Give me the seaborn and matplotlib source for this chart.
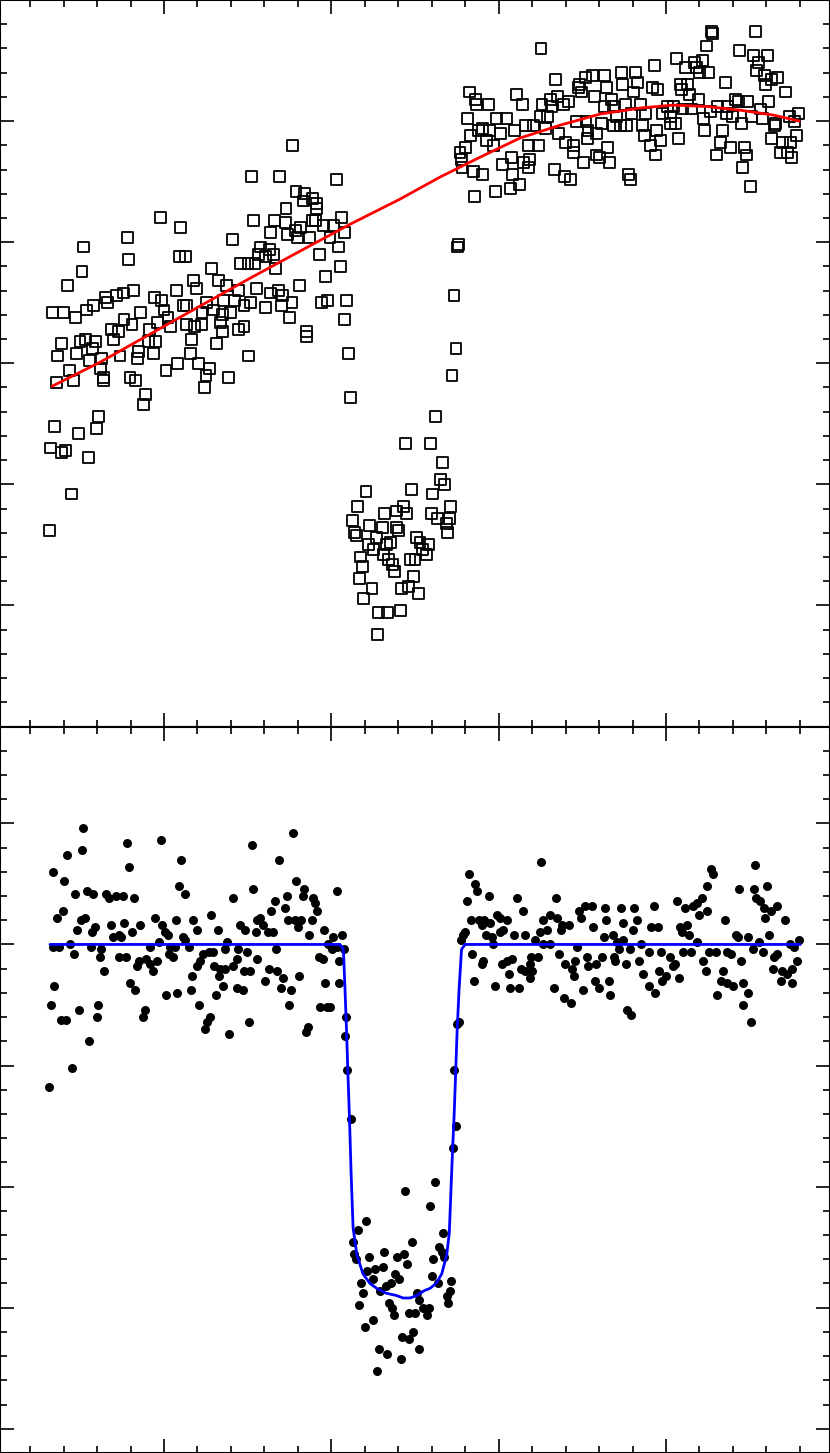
import pandas as pd
import seaborn as sns
import matplotlib
matplotlib.use("Agg")
from matplotlib import pyplot as plt
from matplotlib.ticker import MultipleLocator

sns.set_style("ticks")

# time in hours, flux in parts per thousand
raw_time = [
    0.769, 0.524, 0.689, 1.032, 0.789, 0.837, 0.889, 0.833, 0.909, 0.913,
    0.729, -0.020, 0.534, 0.658, 0.725, 0.904, 1.062, 0.100, 0.785, 0.817,
    0.889, 0.952, 1.012, 0.638, 0.737, 0.797, 0.868, 0.992, 1.076, -0.219,
    0.408, -0.482, 0.574, 0.629, 1.044, 0.091, 0.127, -0.211, 0.564, 0.606,
    0.653, 0.932, 0.458, 0.502, 0.544, 0.669, -0.490, 0.285, 1.052, 0.964,
    0.323, 0.175, -0.574, 0.195, 0.072, -0.184, 0.375, 0.447, 0.554, 0.634,
    0.686, 0.809, -0.243, -0.347, -0.283, -0.056, -0.016, 0.115, 0.255, 0.354,
    0.423, 0.478, 0.518, 0.710, 0.701, 0.765, 0.940, 0.976, 1.092, -0.665,
    -0.598, -0.530, -0.462, -0.423, -0.335, -0.143, 0.000, 0.024, 0.136, 0.227,
    0.295, 0.347, 0.399, 0.606, 0.749, 1.080, -0.239, -0.315, -0.191, -0.036,
    0.040, 0.136, 0.183, 0.223, 0.335, 0.447, 0.478, 0.351, 0.853, 0.853,
    -0.271, -0.303, -0.088, 0.167, -0.610, -0.502, -0.470, -0.411, -0.430, -0.091,
    -0.052, 0.311, -0.638, -0.522, -0.375, -0.263, -0.160, -0.151, -0.064, 0.160,
    0.079, 0.207, 0.506, 1.100, -0.447, -0.378, -0.562, 0.012, 0.271, -0.641,
    -0.542, -0.363, -0.359, -0.203, -0.172, 0.251, 0.387, 0.243, -0.112, -0.124,
    1.112, -0.394,
    1.620, -0.657, -0.510, -0.402, -0.677, -0.614, -0.590, -0.450, -0.550, -0.686,
    1.445, 1.590, 1.666, 1.650, 1.674, 1.481, 1.606, 1.207, 1.155, 1.430,
    1.451, 1.387, 1.315, 1.714, 1.600, 1.634, 1.705, 1.690, 1.128, 1.227,
    1.303, 1.387, 1.403, 1.140, 1.148, 1.693, 1.510, 1.530, 1.580, 1.546,
    1.566, 1.271, 1.331, 1.224, 1.251, 1.311, 1.351, 1.176, 1.341, 1.470,
    1.500, 1.188, 1.367, 1.375, 1.167, 1.490, 1.243, 1.421, 1.460, 1.520,
    1.195, 1.283, 1.335, 1.415, 1.275, 1.759, 1.753, 1.733, 1.745, 1.721,
    3.274, 3.280, 3.534, 2.253, 3.244, 3.439, 3.522, 3.606, 3.065, 3.216,
    3.168, 3.114, 2.929, 3.555, 3.543, 3.180, 3.256, 3.200, 2.815, 2.732,
    2.632, 2.558, 2.518, 2.341, 2.829, 2.742, 2.646, 2.482, 2.475, 3.353,
    3.586, 3.666, 3.630, 3.592, 3.084, 3.128, 3.092, 2.919, 2.949, 3.714,
    1.825, 2.108, 2.805, 3.140, 2.570, 2.497, 1.861, 1.869, 1.937, 2.144,
    2.307, 2.351, 2.415, 2.317, 2.387, 2.259, 2.672, 2.760, 2.849, 3.194,
    3.415, 3.431, 3.487, 3.615, 2.630, 2.686, 3.011, 3.044, 3.154, 3.310,
    3.367, 3.562, 1.813, 1.989, 2.048, 2.247, 2.291, 2.467, 2.522, 2.616,
    2.706, 2.796, 2.875, 2.981, 3.025, 3.100, 3.224, 3.264, 3.363, 3.399,
    3.451, 3.513, 3.579, 3.738, 3.790, 3.770, 3.654, 3.646, 1.881, 1.905,
    1.944, 2.013, 2.096, 2.160, 2.207, 2.279, 2.359, 2.534, 2.582, 2.686,
    2.726, 2.766, 2.857, 2.945, 3.025, 3.056, 3.232, 3.339, 3.782, 1.829,
    1.929, 1.968, 2.180, 2.240, 2.399, 2.447, 2.530, 2.650, 2.869, 2.965,
    3.072, 3.328, 3.632, 3.698, 3.742, 1.801, 1.769, 2.447, 2.905, 3.383,
    3.467, 3.682, 3.726, 1.777, 1.781, 1.849, 1.905, 2.024, 2.076, 2.080,
    2.148, 2.184, 2.176, 2.506, 2.586, 2.602, 2.662, 2.935, 3.299, 3.483,
    3.752, 2.331, 2.391, 2.431, 2.775, 2.790, 3.455, 1.853, 1.980, 2.068,
    2.124, 3.503,
]
raw_flux = [
    4.0, 2.7, 2.7, 2.6, 2.1, 2.0, 1.8, 1.7, 1.6, 1.4,
    1.4, 1.0, 0.9, 0.9, 0.8, 0.9, 1.0, 0.6, 0.5, 0.6,
    0.9, 0.7, 0.7, 0.4, 0.3, 0.2, 0.2, 0.2, 0.4, 0.2,
    0.1, -0.2, -0.2, -0.3, -0.2, -0.6, -0.6, -0.7, -0.5, -0.6,
    -0.5, -0.5, -0.9, -0.9, -0.9, -1.1, -1.2, -1.1, -1.0, -1.4,
    -1.6, -1.6, -1.8, -1.9, -2.0, -2.0, -1.8, -2.0, -1.9, -2.1,
    -2.0, -1.8, -2.1, -2.3, -2.2, -2.3, -2.4, -2.6, -2.5, -2.4,
    -2.4, -2.6, -2.5, -2.2, -2.6, -2.5, -2.5, -2.4, -2.4, -2.9,
    -2.9, -3.1, -2.8, -2.6, -2.5, -2.9, -2.8, -3.1, -2.6, -2.9,
    -2.8, -3.0, -2.9, -2.7, -3.1, -3.2, -3.2, -3.6, -3.4, -3.3,
    -3.5, -3.4, -3.5, -3.4, -3.3, -3.6, -3.5, -3.7, -3.7, -3.9,
    -3.7, -4.0, -3.6, -4.0, -4.2, -4.1, -4.0, -4.1, -4.4, -4.1,
    -4.1, -4.2, -4.7, -4.6, -4.8, -4.7, -4.8, -4.5, -4.6, -4.6,
    -5.0, -5.0, -4.7, -4.6, -4.9, -5.2, -5.3, -5.3, -5.2, -5.8,
    -5.7, -5.6, -5.7, -5.6, -5.7, -5.5, -5.6, -6.0, -6.3, -6.7,
    -6.4, -7.2,
    -7.2, -7.6, -7.9, -7.7, -8.5, -8.7, -8.6, -8.9, -10.4, -11.9,
    -8.3, -8.3, -9.1, -9.8, -10.0, -10.2, -10.4, -10.3, -10.9, -10.9,
    -11.2, -11.1, -11.2, -10.9, -11.2, -11.4, -11.4, -11.6, -11.5, -11.7,
    -11.8, -11.8, -11.9, -12.0, -12.1, -12.0, -12.2, -12.4, -12.5, -12.7,
    -12.9, -12.2, -12.5, -12.5, -12.7, -12.9, -12.4, -13.0, -13.1, -13.1,
    -13.1, -13.4, -13.3, -13.6, -13.9, -13.8, -14.3, -14.3, -14.2, -14.5,
    -14.7, -15.3, -15.3, -15.2, -16.2, -0.1, -0.2, -2.2, -4.4, -5.5,
    8.7, 8.6, 8.7, 8.0, 8.1, 7.9, 7.7, 7.7, 7.6, 7.5,
    7.4, 7.2, 7.3, 7.4, 7.1, 7.2, 7.0, 7.0, 7.0, 7.0,
    6.9, 6.9, 6.8, 6.7, 6.6, 6.5, 6.4, 6.5, 6.4, 6.6,
    6.9, 6.8, 6.7, 6.5, 6.5, 6.5, 6.3, 6.4, 6.3, 6.2,
    6.2, 6.1, 6.2, 6.1, 6.0, 6.2, 5.9, 5.7, 5.7, 5.7,
    5.9, 6.0, 5.8, 5.6, 5.7, 5.7, 5.9, 5.7, 5.7, 5.9,
    5.9, 5.8, 5.8, 5.8, 5.6, 5.6, 5.6, 5.6, 5.5, 5.6,
    5.6, 5.5, 5.1, 5.1, 5.1, 5.2, 5.2, 5.0, 5.0, 4.9,
    5.2, 5.3, 5.3, 5.3, 5.2, 5.5, 5.1, 5.4, 5.3, 5.2,
    4.9, 5.2, 5.1, 5.2, 5.3, 5.0, 4.9, 4.8, 4.6, 4.7,
    4.6, 4.5, 4.6, 4.8, 4.8, 4.7, 4.5, 4.6, 4.5, 4.8,
    4.8, 4.8, 4.8, 4.6, 4.9, 4.9, 4.6, 4.6, 4.4, 4.4,
    4.2, 4.0, 4.0, 4.0, 4.1, 4.0, 4.3, 3.9, 4.4, 4.2,
    4.3, 4.1, 4.3, 4.1, 4.1, 3.9, 3.7, 3.7, 4.0, 3.9,
    3.9, 3.7, 3.7, 3.4, 3.1, 2.9, 2.8, 3.2, 3.5, 2.8,
    3.3, 3.4, 3.1, 3.3, 3.6, 3.5, 3.3, 3.6, 3.6, 3.6,
    3.5, 3.0, 2.7, 2.6, 2.8, 2.6, 3.1, 1.9, 2.1, 2.2,
    2.4, 2.3,
]

trend_time = [-0.669, -0.383, -0.084, 0.215, 0.514, 0.813, 1.112, 1.411, 1.650, 1.889,
              2.128, 2.367, 2.606, 2.845, 3.042, 3.246, 3.443, 3.640, 3.796]
trend_flux = [-5.95, -4.96, -3.80, -2.64, -1.49, -0.37, 0.74, 1.78, 2.69, 3.51,
              4.30, 4.83, 5.29, 5.54, 5.66, 5.60, 5.45, 5.25, 5.00]

det_time = [
    -0.482, -0.219, -0.016, 0.769, -0.490, -0.578, 0.524, 0.100, 0.689, -0.211,
    -0.665, -0.598, 0.789, 0.091, 0.127, 0.534, 0.837, 1.032, -0.530, -0.462,
    -0.423, -0.347, -0.331, -0.287, -0.247, -0.179, 0.411, 0.829, 0.733, 0.662,
    0.892, 0.904, 0.721, 0.641, 0.913, -0.605, -0.638, -0.498, -0.474, -0.054,
    0.072, 0.175, 0.283, 0.574, 0.741, 0.785, 0.821, 0.885, -0.522, -0.414,
    -0.430, -0.319, -0.239, -0.143, -0.191, -0.012, 0.008, 0.024, 0.195, 0.323,
    0.454, 0.482, 0.554, 0.590, 0.550, 0.622, 0.653, 0.801, 0.868, 0.956,
    1.012, 1.064, -0.303, -0.271, -0.255, 0.112, 0.127, -0.662, -0.626, -0.562,
    -0.438, -0.084, -0.032, 0.036, 0.064, 0.148, 0.378, 0.366, 0.980, 1.004,
    1.032, 1.076, -0.538, -0.375, -0.383, -0.271, -0.227, 0.032, 0.052, 0.231,
    0.271, 0.295, 0.442, 0.494, 0.669, 0.925, 0.949, 1.044, -0.151, -0.163,
    -0.108, -0.084, -0.044, -0.064, -0.359, 0.195, 0.215, 0.299, 0.335, 0.366,
    0.411, 0.435, 0.554, 0.327, 0.478, 0.514, 0.629, 0.677, 0.710, 0.167,
    0.805, 0.606, 0.964, 1.048, -0.657, -0.203, -0.172, 0.351, 0.160, 0.438,
    0.470, 0.701, 0.761, 0.012, 0.079, 0.311, -0.677, -0.394, 0.207, 0.749,
    0.932, 0.973, -0.510, -0.402, -0.112, -0.124, -0.617, -0.586, 0.275, 0.255,
    0.243, 0.506, 0.861, 0.849, 0.390, -0.450, -0.550, -0.686, 1.088, 1.080,
    1.092, 0.992,
    1.116, 1.765, 1.753, 1.733, 1.745, 1.726, 1.618, 1.442, 1.588, 1.207,
    1.160, 1.128, 1.668, 1.481, 1.136, 1.148, 1.227, 1.315, 1.395, 1.435,
    1.454, 1.646, 1.662, 1.674, 1.610, 1.215, 1.263, 1.307, 1.247, 1.383,
    1.406, 1.176, 1.327, 1.359, 1.291, 1.602, 1.638, 1.717, 1.188, 1.510,
    1.709, 1.690, 1.167, 1.343, 1.526, 1.698, 1.363, 1.546, 1.582, 1.466,
    1.502, 1.375, 1.570, 1.247, 1.200, 1.490, 1.423, 1.463, 1.287, 1.335,
    1.522, 1.415, 1.275,
    2.252, 1.825, 1.861, 1.873, 1.941, 1.813, 2.108, 2.343, 2.148, 1.833,
    1.885, 1.913, 1.949, 1.901, 1.989, 2.008, 2.048, 1.801, 1.789, 1.773,
    1.925, 1.961, 1.968, 2.008, 2.028, 2.092, 2.156, 2.219, 2.264, 2.307,
    2.351, 2.247, 2.291, 2.267, 2.307, 2.379, 2.419, 2.371, 2.479, 2.515,
    2.558, 2.494, 2.566, 2.634, 2.642, 2.733, 2.809, 2.742, 2.829, 2.802,
    2.682, 2.630, 2.706, 2.745, 2.929, 2.913, 2.953, 2.849, 3.065, 3.116,
    3.160, 3.184, 3.216, 3.247, 3.200, 3.244, 3.271, 3.283, 3.084, 3.128,
    3.096, 3.140, 3.188, 3.351, 3.419, 3.431, 3.487, 3.439, 3.527, 3.534,
    3.606, 3.539, 3.562, 3.586, 3.626, 3.666, 3.594, 3.714, 3.618, 3.558,
    3.738, 3.794, 1.841, 1.909, 1.901, 1.853, 1.980, 2.020, 2.052, 2.080,
    2.060, 2.132, 2.160, 2.188, 2.200, 2.188, 2.195, 2.236, 2.068, 2.124,
    2.331, 2.359, 2.399, 2.439, 2.455, 2.451, 2.391, 2.431, 2.467, 2.506,
    2.530, 2.534, 2.582, 2.578, 2.602, 2.618, 2.658, 2.666, 2.690, 2.694,
    2.761, 2.721, 2.769, 2.790, 2.785, 2.841, 2.865, 2.897, 2.901, 2.937,
    2.957, 2.969, 2.977, 3.001, 3.025, 3.041, 3.056, 3.077, 3.104, 3.148,
    3.224, 3.236, 3.259, 3.299, 3.339, 3.328, 3.363, 3.399, 3.304, 3.363,
    3.387, 3.451, 3.463, 3.491, 3.459, 3.507, 3.519, 3.579, 3.646, 3.662,
    3.638, 3.694, 3.686, 3.722, 3.754, 3.750, 3.782, 3.762,
]
det_flux = [
    4.8, 4.2, 4.3, 4.6, 3.9, 3.7, 4.1, 3.5, 3.5, 3.2,
    3.0, 2.6, 2.6, 2.4, 2.1, 2.3, 2.3, 2.2, 2.1, 2.2,
    2.1, 2.1, 1.9, 2.0, 2.0, 1.9, 1.9, 2.0, 2.0, 1.8,
    1.9, 1.7, 1.5, 1.4, 1.4, 1.4, 1.1, 1.0, 1.1, 1.1,
    1.0, 1.0, 1.2, 1.1, 1.0, 1.0, 1.0, 1.0, 0.6, 0.7,
    0.5, 0.8, 0.9, 0.8, 0.5, 0.8, 0.5, 0.4, 0.6, 0.6,
    0.8, 0.6, 1.0, 0.8, 0.5, 0.5, 0.5, 0.7, 0.4, 0.6,
    0.3, 0.4, 0.3, 0.4, 0.3, 0.3, 0.2, -0.1, -0.1, 0.0,
    -0.1, -0.1, 0.1, -0.1, -0.1, -0.1, 0.1, -0.2, 0.0, -0.2,
    -0.1, -0.2, -0.4, -0.2, -0.5, -0.5, -0.5, -0.4, -0.5, -0.4,
    -0.3, -0.3, -0.2, -0.3, -0.2, -0.5, -0.6, -0.7, -0.7, -0.9,
    -0.6, -0.8, -0.7, -1.1, -1.1, -0.9, -0.7, -0.9, -1.0, -1.0,
    -0.9, -0.6, -0.6, -1.3, -1.1, -1.1, -1.0, -1.1, -1.4, -1.3,
    -1.3, -1.5, -1.6, -1.6, -1.7, -1.6, -1.9, -1.7, -1.9, -1.8,
    -1.9, -1.8, -1.9, -2.1, -2.0, -2.1, -2.5, -2.5, -2.5, -2.5,
    -2.6, -2.6, -2.7, -3.0, -2.7, -3.0, -3.1, -3.1, -3.0, -3.2,
    -3.5, -3.2, -3.4, -3.6, -3.7, -4.0, -5.1, -5.9, -3.0, -3.8,
    -5.2, -2.6,
    -7.2, -3.2, -3.3, -5.2, -7.5, -8.4, -9.8, -10.2, -10.8, -11.4,
    -11.8, -12.3, -11.9, -12.3, -12.8, -13.0, -12.9, -12.7, -12.9, -12.8,
    -13.2, -12.5, -12.7, -12.9, -13.0, -13.5, -13.4, -13.3, -13.8, -13.6,
    -13.8, -14.0, -14.1, -14.0, -14.3, -13.7, -14.0, -13.9, -14.4, -14.4,
    -14.3, -14.5, -14.9, -14.8, -14.7, -14.8, -15.0, -15.0, -15.0, -15.2,
    -15.2, -15.3, -15.3, -15.5, -15.8, -16.0, -16.2, -16.3, -16.7, -16.9,
    -16.7, -17.1, -17.6,
    3.4, 2.9, 2.5, 2.2, 2.0, 1.8, 1.9, 1.9, 1.4, 1.0,
    1.0, 1.0, 0.9, 0.8, 1.2, 1.1, 1.0, 0.5, 0.4, 0.2,
    0.4, 0.3, 0.0, 0.5, 0.6, 0.4, 0.4, 0.2, 1.0, 1.2,
    1.1, 0.5, 0.6, 0.0, 0.0, 0.8, 0.8, 0.6, 1.4, 1.6,
    1.6, 1.1, 0.7, 1.5, 1.0, 1.5, 1.5, 0.9, 1.0, 0.6,
    0.4, 0.3, 0.1, 0.2, 1.6, 0.7, 0.7, 0.0, 1.8, 1.5,
    1.6, 1.7, 1.9, 1.4, 1.2, 2.4, 3.1, 2.9, 0.7, 0.8,
    0.5, 0.4, 0.1, 1.0, 0.4, 0.3, 0.3, 2.3, 2.3, 3.3,
    2.4, 1.9, 1.8, 1.5, 1.4, 1.6, 1.1, 1.0, 0.4, 0.1,
    0.0, 0.2, -0.4, -0.7, -0.8, -1.5, -1.7, -0.8, -0.7, -0.6,
    -1.2, -1.0, -1.1, -0.8, -1.1, -1.4, -0.5, -0.5, -1.8, -1.8,
    -1.8, -0.4, -0.8, -1.0, -0.7, -1.3, -2.2, -2.4, -0.1, -1.9,
    -0.5, -0.9, -0.8, -1.5, -1.8, -0.5, -1.5, -2.1, -0.5, -0.7,
    -0.8, -0.2, -2.7, -2.9, -0.2, -0.7, -1.2, -0.3, -1.7, -2.0,
    -1.1, -0.3, -1.5, -1.3, -0.5, -0.9, -0.8, -1.4, -0.3, -0.3,
    -0.7, -1.1, -0.3, -0.3, -1.1, -1.5, -1.6, -1.7, -2.1, -0.3,
    -0.4, -0.7, -1.6, -2.0, -2.5, -3.2, -0.2, -0.3, -0.5, -0.4,
    -1.0, -1.1, -1.5, -1.2, -1.6, -1.0, -0.7, -0.1,
]

model_time = [-0.681, 1.052, 1.072, 1.082, 1.091, 1.100, 1.109, 1.118, 1.130, 1.152,
              1.189, 1.231, 1.271, 1.327, 1.391, 1.429, 1.470, 1.510, 1.554, 1.590,
              1.626, 1.660, 1.690, 1.705, 1.718, 1.727, 1.733, 1.742, 1.751, 1.763,
              1.778, 1.799, 3.802]
model_flux = [0.0, 0.0, -0.2, -1.9, -3.6, -5.5, -7.3, -9.4, -11.7, -12.8,
              -13.6, -14.0, -14.2, -14.4, -14.5, -14.6, -14.6, -14.5, -14.3, -14.2,
              -14.0, -13.6, -12.8, -11.9, -9.6, -8.1, -7.2, -5.5, -3.7, -1.9,
              -0.2, 0.0, 0.0]

raw = pd.DataFrame({"time": raw_time, "flux": raw_flux})
det = pd.DataFrame({"time": det_time, "flux": det_flux})

fig = plt.figure(figsize=(8.3, 14.53), dpi=100)
ax1 = fig.add_axes([0.0, 0.5, 1.0, 0.5])
ax2 = fig.add_axes([0.0, 0.0, 1.0, 0.5])

sns.scatterplot(data=raw, x="time", y="flux", marker="s", s=62,
                facecolor="none", edgecolor="black", linewidth=1.3, ax=ax1)
sns.lineplot(x=trend_time, y=trend_flux, color="red", linewidth=2,
             estimator=None, sort=False, ax=ax1)

sns.scatterplot(data=det, x="time", y="flux", marker="o", s=42,
                color="black", edgecolor="black", linewidth=0, ax=ax2)
sns.lineplot(x=model_time, y=model_flux, color="blue", linewidth=2,
             estimator=None, sort=False, ax=ax2)

for ax in (ax1, ax2):
    ax.set_xlim(-0.98, 3.98)
    ax.xaxis.set_major_locator(MultipleLocator(1))
    ax.xaxis.set_minor_locator(MultipleLocator(0.2))
    ax.yaxis.set_major_locator(MultipleLocator(5))
    ax.yaxis.set_minor_locator(MultipleLocator(1))
    ax.tick_params(which="both", direction="in", top=True, right=True,
                   labelbottom=False, labelleft=False, width=1.2, color="black")
    ax.tick_params(which="major", length=10)
    ax.tick_params(which="minor", length=5)
    ax.set_xlabel("")
    ax.set_ylabel("")
    for sp in ax.spines.values():
        sp.set_linewidth(1.5)
        sp.set_color("black")

ax1.set_ylim(-20, 10)
ax2.set_ylim(-21, 9)

fig.savefig("out.png", dpi=100)
